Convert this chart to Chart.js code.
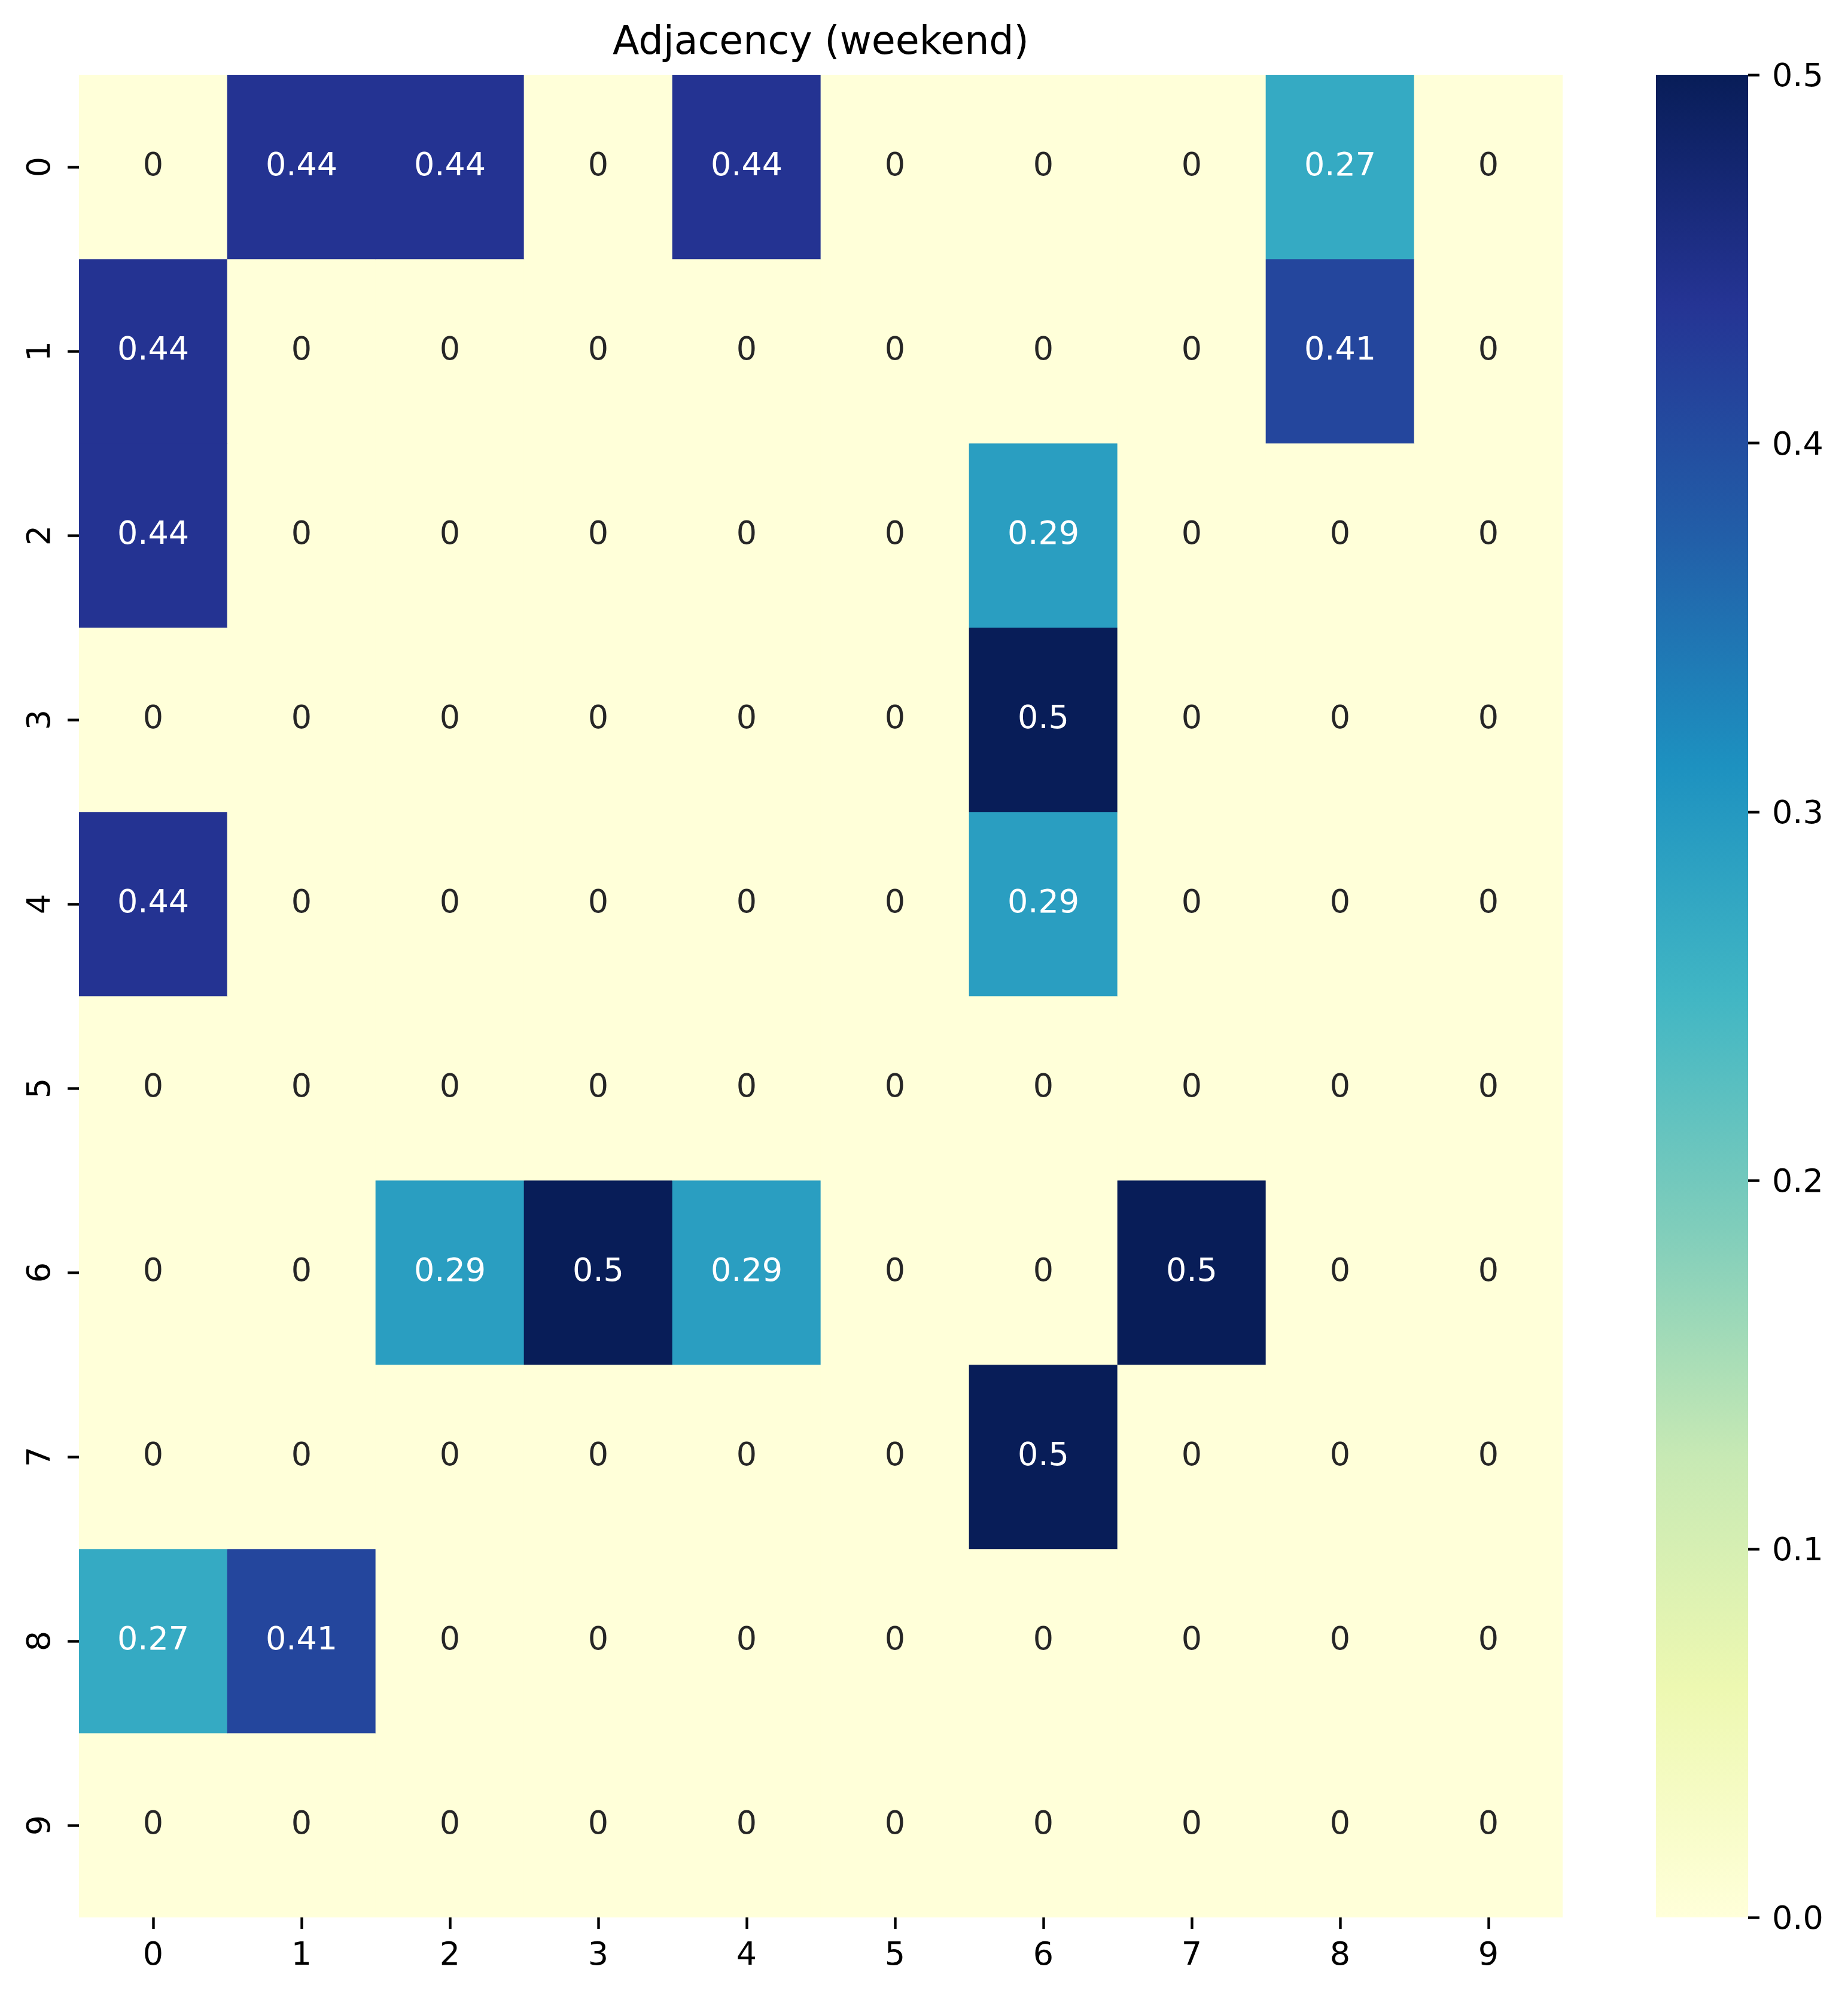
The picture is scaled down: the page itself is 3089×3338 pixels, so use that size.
<!DOCTYPE html>
<html lang="en">
<head>
    <meta charset="UTF-8">
    <title>Adjacency (weekend)</title>
    <style>
    body{
        margin: 0;
        background-color: #fff;
    }
    .page{
        position: relative;
        width: 3089px;
        height: 3338px;
    }
    .heatBox{
        position: absolute;
        left: 0;
        top: 0;
        width: 2660px;
        height: 3338px;
    }
    .barBox{
        position: absolute;
        left: 2768px;
        top: 0;
        width: 321px;
        height: 3338px;
    }
    </style>
</head>
<body>

    <div class="page">
        <div class="heatBox"><canvas id="heatmap"></canvas></div>
        <div class="barBox"><canvas id="colorbar"></canvas></div>
    </div>

    <script src="https://cdn.jsdelivr.net/npm/chart.js@4.4.1/dist/chart.umd.min.js"></script>

    <script>

        // Data (rows top to bottom, columns left to right)
        const rowLabels = ['0', '1', '2', '3', '4', '5', '6', '7', '8', '9'];
        const colLabels = ['0', '1', '2', '3', '4', '5', '6', '7', '8', '9'];

        const row0 = [0, 0.44, 0.44, 0, 0.44, 0, 0, 0, 0.27, 0];
        const row1 = [0.44, 0, 0, 0, 0, 0, 0, 0, 0.41, 0];
        const row2 = [0.44, 0, 0, 0, 0, 0, 0.29, 0, 0, 0];
        const row3 = [0, 0, 0, 0, 0, 0, 0.5, 0, 0, 0];
        const row4 = [0.44, 0, 0, 0, 0, 0, 0.29, 0, 0, 0];
        const row5 = [0, 0, 0, 0, 0, 0, 0, 0, 0, 0];
        const row6 = [0, 0, 0.29, 0.5, 0.29, 0, 0, 0.5, 0, 0];
        const row7 = [0, 0, 0, 0, 0, 0, 0.5, 0, 0, 0];
        const row8 = [0.27, 0.41, 0, 0, 0, 0, 0, 0, 0, 0];
        const row9 = [0, 0, 0, 0, 0, 0, 0, 0, 0, 0];
        const rows = [row0, row1, row2, row3, row4, row5, row6, row7, row8, row9];

        const colorRange = [0, 0.5];
        const colorTicks = [0, 0.1, 0.2, 0.3, 0.4, 0.5];

        // YlGnBu
        const ylgnbu = ['#ffffd9', '#edf8b1', '#c7e9b4', '#7fcdbb', '#41b6c4',
                        '#1d91c0', '#225ea8', '#253494', '#081d58'];

        Chart.defaults.font.family = '"DejaVu Sans", sans-serif';

        function hexRgb(h){
            return [parseInt(h.slice(1, 3), 16), parseInt(h.slice(3, 5), 16), parseInt(h.slice(5, 7), 16)];
        }

        function cellRgb(v){
            let t = (v - colorRange[0]) / (colorRange[1] - colorRange[0]);
            t = Math.min(Math.max(t, 0), 1) * (ylgnbu.length - 1);
            let i = Math.min(Math.floor(t), ylgnbu.length - 2);
            let f = t - i;
            let a = hexRgb(ylgnbu[i]), b = hexRgb(ylgnbu[i + 1]);
            return a.map((c, k) => Math.round(c + (b[k] - c) * f));
        }

        function luminance(rgb){
            let l = rgb.map(c => {
                c = c / 255;
                return c <= 0.03928 ? c / 12.92 : Math.pow((c + 0.055) / 1.055, 2.4);
            });
            return 0.2126 * l[0] + 0.7152 * l[1] + 0.0722 * l[2];
        }

        function fmt(v){
            return String(Number(v.toPrecision(2)));
        }

        // one floating-bar dataset per row
        let datasets = rows.map((vals, r) => ({
            values: vals,
            data: vals.map(() => [r - 0.5, r + 0.5]),
            backgroundColor: vals.map(v => 'rgb(' + cellRgb(v).join(',') + ')'),
            borderWidth: 0,
            borderSkipped: false,
            barPercentage: 1,
            categoryPercentage: 1,
            grouped: false
        }));

        const cellText = {
            id: 'cellText',
            afterDatasetsDraw(chart){
                const ctx = chart.ctx;
                ctx.save();
                ctx.font = '54px "DejaVu Sans"';
                ctx.textAlign = 'center';
                ctx.textBaseline = 'middle';
                chart.data.datasets.forEach((ds, r) => {
                    chart.getDatasetMeta(r).data.forEach((bar, c) => {
                        let v = ds.values[c];
                        let p = bar.getCenterPoint();
                        ctx.fillStyle = luminance(cellRgb(v)) > 0.408 ? '#262626' : '#ffffff';
                        ctx.fillText(fmt(v), p.x, p.y);
                    });
                });
                ctx.restore();
            }
        };

        const tickGrid = {
            display: true,
            drawOnChartArea: false,
            drawTicks: true,
            tickLength: 19,
            tickWidth: 4.4,
            tickColor: '#000'
        };

        const heatmap = new Chart(document.getElementById('heatmap'), {
            type: 'bar',
            data: { labels: colLabels, datasets },
            plugins: [cellText],
            options: {
                responsive: true,
                maintainAspectRatio: false,
                animation: false,
                events: [],
                layout: { padding: { left: 0, right: 48, top: 0, bottom: 0 } },
                plugins: {
                    legend: { display: false },
                    tooltip: { enabled: false },
                    title: {
                        display: true,
                        text: 'Adjacency (weekend)',
                        fullSize: false,
                        color: '#000',
                        font: { size: 65, weight: 'normal', lineHeight: 1.2 },
                        padding: { top: 34, bottom: 13 }
                    }
                },
                scales: {
                    x: {
                        type: 'category',
                        offset: true,
                        afterFit: s => { s.height = 133; },
                        ticks: { font: { size: 54 }, color: '#000', padding: 14, maxRotation: 0, autoSkip: false },
                        grid: Object.assign({ offset: false }, tickGrid),
                        border: { display: false }
                    },
                    y: {
                        type: 'linear',
                        min: -0.5,
                        max: 9.5,
                        bounds: 'data',
                        reverse: true,
                        afterBuildTicks: s => { s.ticks = rowLabels.map((_, i) => ({ value: i })); },
                        afterFit: s => { s.width = 132; },
                        ticks: {
                            callback: v => rowLabels[v],
                            font: { size: 54 },
                            color: '#000',
                            minRotation: 90,
                            maxRotation: 90,
                            crossAlign: 'center',
                            autoSkip: false,
                            padding: 27
                        },
                        grid: tickGrid,
                        border: { display: false }
                    }
                }
            }
        });

        function barGradient(chart){
            const area = chart.chartArea;
            if (!area) return ylgnbu[0];
            const g = chart.ctx.createLinearGradient(0, area.bottom, 0, area.top);
            ylgnbu.forEach((c, i) => g.addColorStop(i / (ylgnbu.length - 1), c));
            return g;
        }

        const colorbar = new Chart(document.getElementById('colorbar'), {
            type: 'bar',
            data: {
                labels: [''],
                datasets: [{
                    data: [colorRange],
                    backgroundColor: c => barGradient(c.chart),
                    borderWidth: 0,
                    borderSkipped: false,
                    barPercentage: 1,
                    categoryPercentage: 1
                }]
            },
            options: {
                responsive: true,
                maintainAspectRatio: false,
                animation: false,
                events: [],
                layout: { padding: { left: 0, right: 0, top: 125, bottom: 133 } },
                plugins: {
                    legend: { display: false },
                    tooltip: { enabled: false }
                },
                scales: {
                    x: { display: false, offset: true },
                    y: {
                        position: 'right',
                        min: colorRange[0],
                        max: colorRange[1],
                        bounds: 'data',
                        afterBuildTicks: s => { s.ticks = colorTicks.map(v => ({ value: v })); },
                        afterFit: s => { s.width = 167; },
                        ticks: {
                            callback: v => v.toFixed(1),
                            font: { size: 54 },
                            color: '#000',
                            autoSkip: false,
                            padding: 21,
                            labelOffset: 5
                        },
                        grid: tickGrid,
                        border: { display: false }
                    }
                }
            }
        });

    </script>
</body>
</html>
